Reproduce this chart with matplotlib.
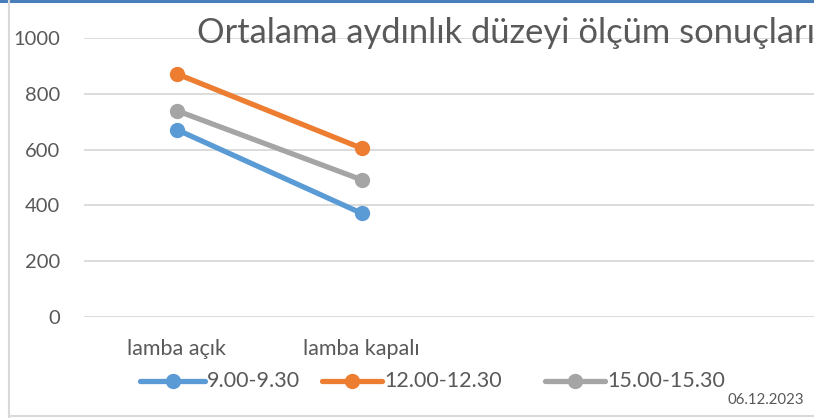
import matplotlib
matplotlib.use("Agg")
import matplotlib.pyplot as plt
from matplotlib.lines import Line2D

plt.rcParams['font.family'] = ['Lato', 'DejaVu Sans']

categories = ["lamba açık", "lamba kapalı", "", ""]
series_names = ["9.00-9.30", "12.00-12.30", "15.00-15.30"]
series_values = [
    [672, 372],
    [872, 605],
    [740, 492],
]
colors = ["#5B9BD5", "#ED7D31", "#A5A5A5"]
y_ticks = [0, 200, 400, 600, 800, 1000]
title = "Ortalama aydınlık düzeyi ölçüm sonuçları"
date_text = "06.12.2023"

W, H = 814, 418
fig = plt.figure(figsize=(W / 100, H / 100), dpi=100)
text_color = '#595959'

# plot area extends past the right edge of the frame
ax = fig.add_axes([84 / W, 101 / H, 740 / W, 279 / H])
x = list(range(len(categories)))
for name, vals, c in zip(series_names, series_values, colors):
    ax.plot(x[:len(vals)], vals, color=c, lw=3.8, marker='o', ms=10,
            solid_capstyle='round', label=name, clip_on=False)

ax.set_xlim(-0.5, len(categories) - 0.5)
ax.set_ylim(0, 1000)
ax.set_yticks(y_ticks)
ax.set_xticks([])
ax.grid(axis='y', color='#D9D9D9', lw=1.3)
ax.set_axisbelow(True)
for s in ax.spines.values():
    s.set_visible(False)
ax.tick_params(axis='y', length=0, pad=17, labelsize=14.5, labelcolor=text_color)

for i, cat in enumerate(categories):
    if cat:
        ax.text(i, -0.113, cat, transform=ax.get_xaxis_transform(),
                ha='center', va='center', fontsize=15.5, color=text_color)

# legend entries: line with marker followed by the series name
legend_y = 1 - 381 / H
legend_x = [(140, 205), (322, 382), (545, 605)]
for (x0, x1), name, c in zip(legend_x, series_names, colors):
    fig.add_artist(Line2D([x0 / W, x1 / W], [legend_y, legend_y], color=c,
                          lw=3.8, solid_capstyle='round',
                          transform=fig.transFigure))
    fig.add_artist(Line2D([(x0 + x1) / 2 / W], [legend_y], color=c, marker='o',
                          ms=10, lw=0, transform=fig.transFigure))
    fig.text((x1 + 2) / W, legend_y, name, fontsize=15.5, color=text_color,
             ha='left', va='center')

fig.text(197 / W, 1 - 33 / H, title, fontsize=24.8, color=text_color,
         ha='left', va='center')
fig.text(727 / W, 1 - 400 / H, date_text, fontsize=10.8, color=text_color,
         ha='left', va='center')

# frame lines
fig.add_artist(Line2D([0, 1], [1 - 1 / H, 1 - 1 / H], color='#4A7EBB', lw=2.2,
                      transform=fig.transFigure))
fig.add_artist(Line2D([8.5 / W, 8.5 / W], [0, 1], color='#D9D9D9', lw=1.5,
                      transform=fig.transFigure))
fig.add_artist(Line2D([8.5 / W, 1], [1 - 416 / H, 1 - 416 / H], color='#D9D9D9',
                      lw=1.5, transform=fig.transFigure))

fig.savefig("out.png", dpi=100)
